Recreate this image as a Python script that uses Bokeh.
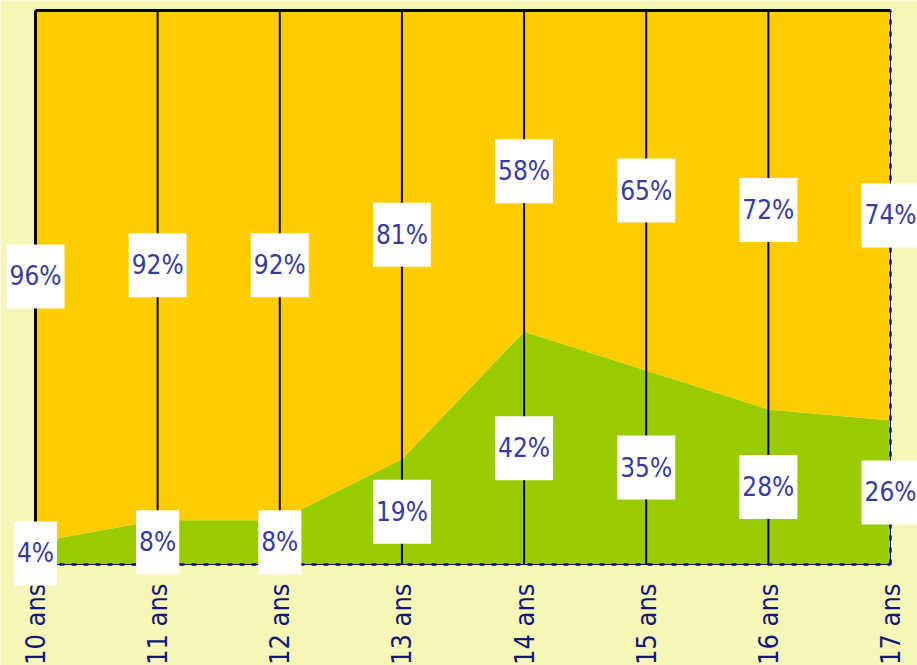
import math
from bokeh.plotting import figure
from bokeh.models import ColumnDataSource, Range1d
from bokeh.core.properties import value
from bokeh.embed import file_html
from bokeh.resources import INLINE

categories = ["10 ans", "11 ans", "12 ans", "13 ans", "14 ans", "15 ans", "16 ans", "17 ans"]
green_vals = [4, 8, 8, 19, 42, 35, 28, 26]
orange_vals = [96, 92, 92, 81, 58, 65, 72, 74]

FONT = "DejaVu Sans Condensed"
BG = "#F6F6B9"
GREEN = "#99CC00"
ORANGE = "#FFCC00"
LABEL_BLUE = "#3A3A9C"
AXIS_BLUE = "#161678"
DASH_BLUE = "#0A0A9A"

W, H = 917, 665
# plot area inside the canvas (pixels)
LEFT, RIGHT, TOP, BOTTOM = 35, 890, 10, 564

xs = list(range(len(categories)))
totals = [g + o for g, o in zip(green_vals, orange_vals)]
top = max(totals)

# ranges chosen so that data box [0, n-1] x [0, top] maps to the plot area
xu = (RIGHT - LEFT) / (len(xs) - 1)
yu = (BOTTOM - TOP) / top
x_range = Range1d(-LEFT / xu, (len(xs) - 1) + (W - RIGHT) / xu)
y_range = Range1d(-(H - BOTTOM) / yu, top + TOP / yu)

p = figure(width=W, height=H, output_backend="svg", toolbar_location=None,
           x_range=x_range, y_range=y_range,
           x_axis_location=None, y_axis_location=None, min_border=0)
p.background_fill_color = BG
p.border_fill_color = BG
p.outline_line_color = None
p.grid.visible = False

src = ColumnDataSource(dict(x=xs, green=green_vals, orange=orange_vals))
p.varea_stack(["green", "orange"], x="x", color=[GREEN, ORANGE], source=src)

n = len(xs)
# vertical category lines
inner = ColumnDataSource(dict(x=xs[:-1], y0=[0] * (n - 1), y1=[top] * (n - 1)))
p.segment(x0="x", y0="y0", x1="x", y1="y1", source=inner, line_color="black", line_width=2)
# frame edges: left and top solid
edges = ColumnDataSource(dict(x0=[xs[0], xs[0]], y0=[0, top], x1=[xs[0], xs[-1]], y1=[top, top]))
p.segment(x0="x0", y0="y0", x1="x1", y1="y1", source=edges, line_color="black", line_width=3)
# right edge and baseline: thin dark line + navy dashes
rb = ColumnDataSource(dict(x0=[xs[-1], xs[0]], y0=[0, 0], x1=[xs[-1], xs[-1]], y1=[top, 0]))
p.segment(x0="x0", y0="y0", x1="x1", y1="y1", source=rb, line_color="#1a1a2a", line_width=1)
p.segment(x0="x0", y0="y0", x1="x1", y1="y1", source=rb, line_color=DASH_BLUE, line_width=2.5,
          line_dash="5 7")

# category labels (rotated, below the axis line)
p.text(x=xs, y=[0] * n, text=categories, angle=math.pi / 2,
       text_align="right", text_baseline="middle", y_offset=19,
       text_font=value(FONT), text_font_size="27px", text_color=AXIS_BLUE)

# value labels in white boxes
lab = ColumnDataSource(dict(
    x=xs + xs,
    y=[g / 2 for g in green_vals] + [g + o / 2 for g, o in zip(green_vals, orange_vals)],
    t=[f"{g}%" for g in green_vals] + [f"{o}%" for o in orange_vals],
))
p.text(x="x", y="y", text="t", source=lab, text_align="center", text_baseline="middle",
       text_font=value(FONT), text_font_size="26px", text_color=LABEL_BLUE,
       background_fill_color="white",
       padding={"left": 3, "right": 3, "top": 17, "bottom": 17})

open("out.html", "w").write(file_html(p, INLINE))
